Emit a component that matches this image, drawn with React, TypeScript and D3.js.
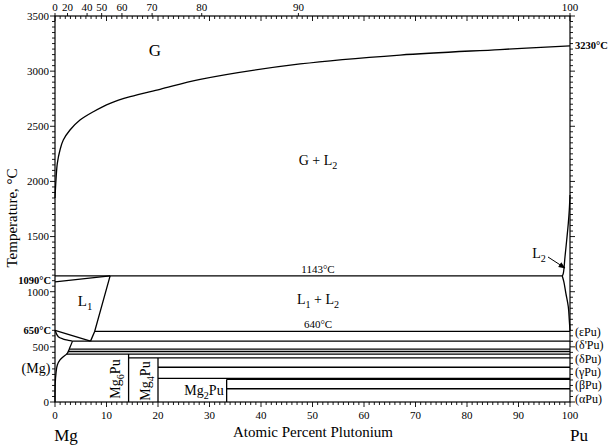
import * as d3 from 'd3';

// phase boundaries, [atomic % Pu, temperature °C]
const gasCurve: [number, number][] = [
  [0, 1850], [0.19, 2013], [0.45, 2164], [0.97, 2285], [1.61, 2375], [2.91, 2466],
  [4.85, 2557], [7.44, 2632], [10.7, 2708], [14.6, 2768], [20.4, 2835], [28.2, 2925],
  [47.6, 3065], [67, 3146], [86.4, 3196], [100, 3230],
];
const l1Left: [number, number][] = [[0, 1090], [10.7, 1143]];
const l1Right: [number, number][] = [[10.7, 1143], [7.7, 640], [6.9, 552]];
const mgLiquidus: [number, number][] = [[0, 650], [6.9, 552]];
const mgSolidus: [number, number][] = [[0, 650], [0.64, 592], [1.6, 571], [2.6, 559], [3.4, 552]];
const mgSolvus: [number, number][] = [
  [3.4, 552], [2.91, 496], [2.39, 441], [1.61, 411], [0.97, 381], [0.45, 335],
  [0.19, 260], [0.05, 170], [0, 0],
];
const l2Upper: [number, number][] = [
  [98.5, 1143], [98.7, 1167], [99.03, 1317], [99.36, 1469], [99.67, 1620], [99.86, 1741], [100, 1877],
];
const l2Lower: [number, number][] = [
  [98.5, 1143], [98.8, 1091], [99.2, 985], [99.67, 864], [99.86, 743], [100, 645],
];

// invariant lines: temperature, from, to (at.% Pu)
const isoTemps = [1143, 640, 552, 480, 458, 435, 400, 315, 215, 205, 120];
const isoFrom = [0, 7.7, 3.4, 2.8, 2.5, 2.2, 14.29, 20, 20, 33.33, 33.33];
const isoTo = [98.5, 100, 100, 100, 100, 100, 100, 100, 100, 100, 100];

// compounds
const compoundAt = [14.29, 20, 33.33];
const compoundTop = [435, 400, 205];

const tempTicks = [0, 500, 1000, 1500, 2000, 2500, 3000, 3500];
const atTicks = [0, 10, 20, 30, 40, 50, 60, 70, 80, 90, 100];
const wtLabels = [0, 20, 40, 50, 60, 70, 80, 90, 100];

const puPhases = ['(εPu)', "(δ'Pu)", '(δPu)', '(γPu)', '(βPu)', '(αPu)'];
const puPhaseTemps = [635, 520, 390, 275, 160, 25];

const FONT = '"Liberation Serif", "Times New Roman", Times, serif';

const wtToAt = (w: number) => {
  if (w >= 100) return 100;
  const pu = w / 244.06;
  const mg = (100 - w) / 24.305;
  return (100 * pu) / (pu + mg);
};

export default function App() {
  const x = d3.scaleLinear().domain([0, 100]).range([55, 570]);
  const y = d3.scaleLinear().domain([0, 3500]).range([402, 16]);

  const line = d3.line<[number, number]>().x(d => x(d[0])).y(d => y(d[1]));
  const smooth = d3.line<[number, number]>().x(d => x(d[0])).y(d => y(d[1])).curve(d3.curveCatmullRom.alpha(0.5));

  const minorT = d3.range(0, 3501, 50);
  const minorX = d3.range(0, 101, 1);

  const sub = (base: string, s: string, tail = '') => (
    <>
      {base}
      <tspan dy={4} fontSize="0.72em">{s}</tspan>
      <tspan dy={-4}>{tail}</tspan>
    </>
  );

  return (
    <div style={{ position: 'absolute', left: 0, top: 0 }}>
      <svg width={610} height={446} style={{ display: 'block', background: '#fff', fontFamily: FONT }}>
        {/* frame */}
        <rect x={x(0)} y={y(3500)} width={x(100) - x(0)} height={y(0) - y(3500)} fill="none" stroke="#000" strokeWidth={1.2} />

        {/* left and right temperature ticks */}
        {minorT.map(t => {
          const major = t % 500 === 0;
          return (
            <g key={'t' + t} stroke="#000" strokeWidth={0.9}>
              <line x1={x(0) - (major ? 5 : 3)} x2={x(0)} y1={y(t)} y2={y(t)} />
              <line x1={x(100)} x2={x(100) + (major ? 5 : 3)} y1={y(t)} y2={y(t)} />
            </g>
          );
        })}
        {tempTicks.map(t => (
          <text key={'tl' + t} x={x(0) - 6} y={y(t)} dy="0.35em" textAnchor="end" fontSize={11}>{t}</text>
        ))}

        {/* bottom and top composition ticks */}
        {minorX.map(a => {
          const major = a % 10 === 0;
          return (
            <g key={'a' + a} stroke="#000" strokeWidth={0.9}>
              <line x1={x(a)} x2={x(a)} y1={y(0)} y2={y(0) + (major ? 5 : 3)} />
              <line x1={x(a)} x2={x(a)} y1={y(3500)} y2={y(3500) + (major ? 5 : 3)} />
            </g>
          );
        })}
        {atTicks.map(a => (
          <text key={'al' + a} x={x(a)} y={415} dy="0.35em" textAnchor="middle" fontSize={11}>{a}</text>
        ))}
        {wtLabels.map(w => (
          <g key={'w' + w}>
            <line x1={x(wtToAt(w))} x2={x(wtToAt(w))} y1={y(3500) - 3} y2={y(3500)} stroke="#000" strokeWidth={0.9} />
            <text x={x(wtToAt(w))} y={7} dy="0.35em" textAnchor="middle" fontSize={11}>{w}</text>
          </g>
        ))}

        {/* phase boundaries */}
        <g fill="none" stroke="#000" strokeWidth={1.3}>
          <path d={smooth(gasCurve) ?? ''} />
          <path d={line(l1Left) ?? ''} />
          <path d={line(l1Right) ?? ''} />
          <path d={line(mgLiquidus) ?? ''} />
          <path d={smooth(mgSolidus) ?? ''} />
          <path d={smooth(mgSolvus) ?? ''} />
          <path d={smooth(l2Upper) ?? ''} />
          <path d={smooth(l2Lower) ?? ''} />
          {isoTemps.map((t, i) => (
            <line key={'iso' + i} x1={x(isoFrom[i])} x2={x(isoTo[i])} y1={y(t)} y2={y(t)} />
          ))}
          {compoundAt.map((c, i) => (
            <line key={'c' + i} x1={x(c)} x2={x(c)} y1={y(0)} y2={y(compoundTop[i])} />
          ))}
        </g>

        {/* region labels */}
        <text x={155} y={56} textAnchor="middle" fontSize={17}>G</text>
        <text x={318} y={165} textAnchor="middle" fontSize={14}>{sub('G + L', '2')}</text>
        <text x={318} y={273} textAnchor="middle" fontSize={11}>1143°C</text>
        <text x={318} y={304} textAnchor="middle" fontSize={14}>{sub('L', '1', ' + L')}<tspan dy={4} fontSize="0.72em">2</tspan></text>
        <text x={318} y={328} textAnchor="middle" fontSize={11}>640°C</text>
        <text x={85} y={306} textAnchor="middle" fontSize={15}>{sub('L', '1')}</text>
        <text x={539} y={258} textAnchor="middle" fontSize={14}>{sub('L', '2')}</text>
        <defs>
          <marker id="arr" viewBox="0 0 10 10" refX={9} refY={5} markerWidth={7} markerHeight={7} orient="auto">
            <path d="M0,1 L10,5 L0,9 z" fill="#000" />
          </marker>
        </defs>
        <line x1={548} y1={257} x2={565} y2={268} stroke="#000" strokeWidth={1} markerEnd="url(#arr)" />
        <text x={36} y={368} dy="0.35em" textAnchor="middle" fontSize={14}>(Mg)</text>
        <text transform="translate(120,379) rotate(-90)" textAnchor="middle" fontSize={14}>{sub('Mg', '6', 'Pu')}</text>
        <text transform="translate(150,381) rotate(-90)" textAnchor="middle" fontSize={14}>{sub('Mg', '4', 'Pu')}</text>
        <text x={204} y={395} textAnchor="middle" fontSize={14}>{sub('Mg', '2', 'Pu')}</text>

        {/* key temperatures */}
        <text x={51} y={y(1090) - 1} dy="0.35em" textAnchor="end" fontSize={10.5} fontWeight="bold">1090°C</text>
        <text x={51} y={y(650)} dy="0.35em" textAnchor="end" fontSize={10.5} fontWeight="bold">650°C</text>
        <text x={575} y={y(3230)} dy="0.35em" fontSize={10.5} fontWeight="bold">3230°C</text>
        {puPhases.map((p, i) => (
          <text key={p} x={575} y={y(puPhaseTemps[i])} dy="0.35em" fontSize={12}>{p}</text>
        ))}

        {/* axis titles */}
        <text x={66} y={441} textAnchor="middle" fontSize={17}>Mg</text>
        <text x={579} y={441} textAnchor="middle" fontSize={17}>Pu</text>
        <text x={313} y={437} textAnchor="middle" fontSize={15}>Atomic Percent Plutonium</text>
        <text transform="translate(17,218) rotate(-90)" textAnchor="middle" fontSize={15}>Temperature, °C</text>
      </svg>
    </div>
  );
}
